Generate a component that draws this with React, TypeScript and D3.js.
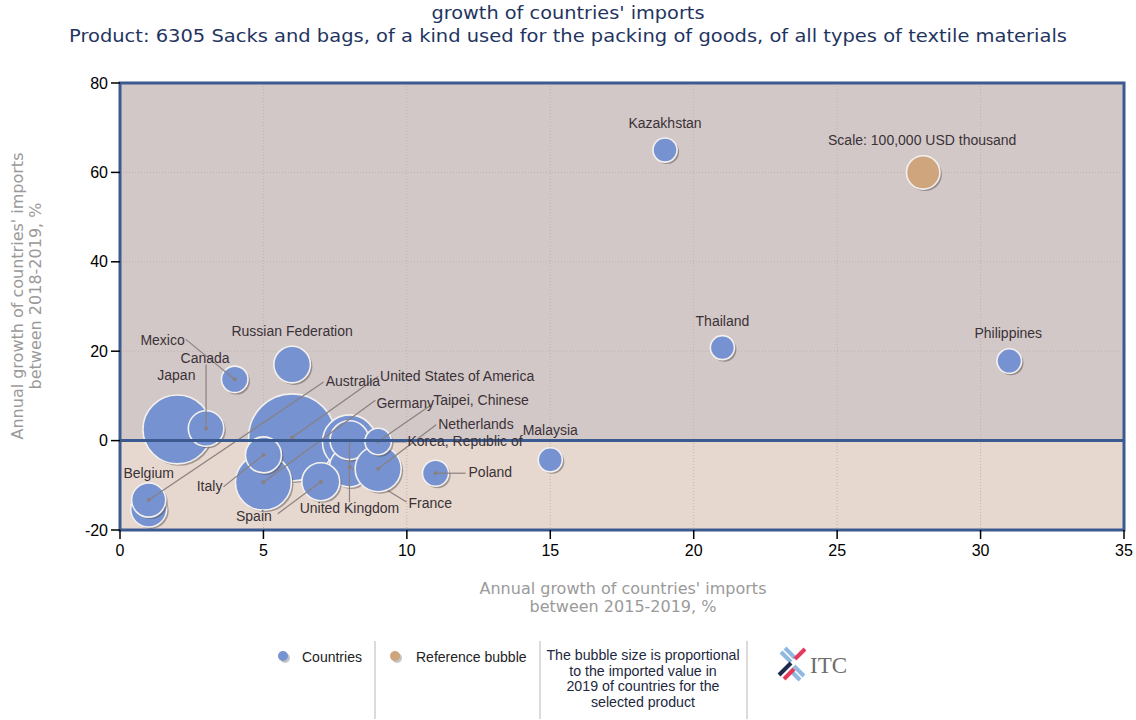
import React from "react";
import * as d3 from "d3";

// ---------- data ----------
const countries = [
  "United States of America", "Japan", "Korea, Republic of", "France", "United Kingdom",
  "Germany", "Netherlands", "Spain", "Italy", "Russian Federation", "Canada", "Mexico",
  "Taipei, Chinese", "Belgium", "Australia", "Poland", "Malaysia", "Thailand",
  "Philippines", "Kazakhstan",
];
// Annual growth 2015-2019, %
const growth1519 = [6, 2, 8, 8, 8, 5, 9, 7, 5, 6, 3, 4, 9, 1, 1, 11, 15, 21, 31, 19];
// Annual growth 2018-2019, %
const growth1819 = [0.7, 2.5, -0.3, -5.9, 0.1, -9.3, -6.3, -9.2, -3.2, 17, 2.7, 13.7, -0.2, -15.3, -13.3, -7.3, -4.3, 20.8, 17.8, 65];
// Imported value 2019, USD thousand
const imports2019 = [680000, 425000, 262000, 143000, 136000, 281000, 190000, 129000, 116000, 120000, 113000, 63000, 63000, 116000, 104000, 61000, 52000, 52000, 54000, 52000];

const refBubble = { x: 28, y: 60, value: 100000, label: "Scale: 100,000 USD thousand" };

const xTicks = [0, 5, 10, 15, 20, 25, 30, 35];
const yTicks = [-20, 0, 20, 40, 60, 80];

const titleLines = ["growth of countries' imports", "Product: 6305 Sacks and bags, of a kind used for the packing of goods, of all types of textile materials"];
const xTitle = ["Annual growth of countries' imports", "between 2015-2019, %"];
const yTitle = ["Annual growth of countries' imports", "between 2018-2019, %"];
const legendNote = ["The bubble size is proportional", "to the imported value in", "2019 of countries for the", "selected product"];

// ---------- label layout (pixel offsets from bubble centre) ----------
type LabelLayout = { dx: number; dy: number; anchor: string; lead?: [number, number] };
const labelLayout: Record<string, LabelLayout> = {
  "United States of America": { dx: 88, dy: -56, anchor: "start", lead: [86, -61] },
  "Japan": { dx: -1, dy: -49, anchor: "middle" },
  "Korea, Republic of": { dx: 58, dy: 4, anchor: "start", lead: [57, 0] },
  "France": { dx: 59, dy: 41, anchor: "start", lead: [57, 35] },
  "United Kingdom": { dx: 0, dy: 73, anchor: "middle", lead: [0, 62] },
  "Germany": { dx: 113, dy: -74, anchor: "start", lead: [112, -82] },
  "Netherlands": { dx: 60, dy: -40, anchor: "start", lead: [58, -44] },
  "Spain": { dx: -49, dy: 39, anchor: "end", lead: [-43, 32] },
  "Italy": { dx: -41, dy: 36, anchor: "end", lead: [-40, 32] },
  "Russian Federation": { dx: 0, dy: -29, anchor: "middle" },
  "Canada": { dx: -1, dy: -66, anchor: "middle", lead: [0, -64] },
  "Mexico": { dx: -50, dy: -34, anchor: "end", lead: [-49, -40] },
  "Taipei, Chinese": { dx: 55, dy: -36, anchor: "start", lead: [55, -38] },
  "Belgium": { dx: 0, dy: -31, anchor: "middle" },
  "Australia": { dx: 177, dy: -114, anchor: "start", lead: [175, -118] },
  "Poland": { dx: 33, dy: 4, anchor: "start", lead: [30, 0] },
  "Malaysia": { dx: 0, dy: -25, anchor: "middle" },
  "Thailand": { dx: 0, dy: -22, anchor: "middle" },
  "Philippines": { dx: -1, dy: -23, anchor: "middle" },
  "Kazakhstan": { dx: 0, dy: -22, anchor: "middle" },
};

// ---------- styles ----------
const W = 1136, H = 720;
const plot = { left: 120, right: 1124, top: 83, bottom: 530 };
const BLUE = "#7692d0";
const ORANGE = "#cfa57e";
const FRAME = "#3b5a8f";
const LABEL_FONT = "'Liberation Sans', Arial, sans-serif";
const TITLE_FONT = "'DejaVu Sans', Verdana, sans-serif";
const titleWidths = [273, 998];

export default function App() {
  const x = d3.scaleLinear().domain([0, 35]).range([plot.left, plot.right]);
  const y = d3.scaleLinear().domain([-20, 80]).range([plot.bottom, plot.top]);
  const r = d3.scaleSqrt().domain([0, 100000]).range([0, 16.7]);

  const pts = countries.map((name, i) => ({
    name,
    cx: x(growth1519[i]),
    cy: y(growth1819[i]),
    rr: r(imports2019[i]),
    lay: labelLayout[name],
  }));

  const bubble = (cx: number, cy: number, rr: number, fill: string, key: string) => (
    <g key={key}>
      <circle cx={cx + 2} cy={cy + 2} r={rr} fill="rgba(80,70,70,0.45)" />
      <circle cx={cx} cy={cy} r={rr} fill={fill} stroke="#f3f1ef" strokeWidth={1.6} />
    </g>
  );

  const titleColor = "#1f355f";

  return (
    <svg width={W} height={H} style={{ position: "absolute", left: 0, top: 0, background: "#fff" }}>
      {/* title */}
      {titleLines.map((t, i) => (
        <text key={t} x={568} y={19 + i * 22.5} textAnchor="middle" fontFamily={TITLE_FONT} fontSize={17}
          textLength={titleWidths[i]} lengthAdjust="spacingAndGlyphs" fill={titleColor}>{t}</text>
      ))}

      {/* background regions */}
      <rect x={plot.left} y={plot.top} width={plot.right - plot.left} height={y(0) - plot.top} fill="#d3c8c8" />
      <rect x={plot.left} y={y(0)} width={plot.right - plot.left} height={plot.bottom - y(0)} fill="#e6d8cf" />

      {/* grid */}
      {xTicks.filter((t) => t > 0 && t < 35).map((t) => (
        <line key={"gx" + t} x1={x(t)} x2={x(t)} y1={plot.top} y2={plot.bottom} stroke="#c2b0b0" strokeDasharray="1,2" />
      ))}
      {yTicks.filter((t) => t > 0 && t < 80).map((t) => (
        <line key={"gy" + t} y1={y(t)} y2={y(t)} x1={plot.left} x2={plot.right} stroke="#c2b0b0" strokeDasharray="1,2" />
      ))}

      {/* bubbles with leader lines */}
      {pts.map((p) => (
        <g key={p.name}>
          {bubble(p.cx, p.cy, p.rr, BLUE, "b" + p.name)}
          {p.lay.lead && (
            <g>
              <line x1={p.cx + p.lay.lead[0]} y1={p.cy + p.lay.lead[1]} x2={p.cx} y2={p.cy} stroke="#8a8080" strokeWidth={1.2} />
              <circle cx={p.cx} cy={p.cy} r={2} fill="#8a8080" />
            </g>
          )}
        </g>
      ))}
      {bubble(x(refBubble.x), y(refBubble.y), r(refBubble.value), ORANGE, "ref")}

      {/* zero line */}
      <line x1={plot.left} x2={plot.right} y1={y(0)} y2={y(0)} stroke={FRAME} strokeWidth={3} />

      {/* labels */}
      {pts.map((p) => (
        <text key={"t" + p.name} x={p.cx + p.lay.dx} y={p.cy + p.lay.dy} textAnchor={p.lay.anchor}
          fontFamily={LABEL_FONT} fontSize={14} fill="#3a3236">{p.name}</text>
      ))}
      <text x={x(refBubble.x) - 1} y={y(refBubble.y) - 27} textAnchor="middle" fontFamily={LABEL_FONT} fontSize={14} fill="#3a3236">{refBubble.label}</text>

      {/* frame */}
      <rect x={plot.left} y={plot.top} width={plot.right - plot.left} height={plot.bottom - plot.top} fill="none" stroke={FRAME} strokeWidth={3} />

      {/* axes ticks */}
      {yTicks.map((t) => (
        <g key={"yt" + t}>
          <line x1={plot.left - 9} x2={plot.left} y1={y(t)} y2={y(t)} stroke="#000" strokeWidth={1.5} />
          <text x={plot.left - 12} y={y(t) + 5.5} textAnchor="end" fontFamily={LABEL_FONT} fontSize={16} fill="#000">{t}</text>
        </g>
      ))}
      {xTicks.map((t) => (
        <g key={"xt" + t}>
          <line x1={x(t)} x2={x(t)} y1={plot.bottom} y2={plot.bottom + 9} stroke="#000" strokeWidth={1.5} />
          <text x={x(t)} y={plot.bottom + 26} textAnchor="middle" fontFamily={LABEL_FONT} fontSize={16} fill="#000">{t}</text>
        </g>
      ))}

      {/* axis titles */}
      {xTitle.map((t, i) => (
        <text key={t} x={623} y={594 + i * 18} textAnchor="middle" fontFamily={TITLE_FONT} fontSize={16} fill="#9a9a9a">{t}</text>
      ))}
      {yTitle.map((t, i) => (
        <text key={t} transform={`translate(${23 + i * 18},296) rotate(-90)`} textAnchor="middle" fontFamily={TITLE_FONT} fontSize={16} fill="#9a9a9a">{t}</text>
      ))}

      {/* legend */}
      <g>
        <circle cx={285} cy={658} r={5} fill="#8c8c8c" opacity={0.5} />
        <circle cx={283} cy={656} r={5} fill={BLUE} />
        <text x={302} y={662} fontFamily={LABEL_FONT} fontSize={14} fill="#222">Countries</text>
        <circle cx={397} cy={658} r={5} fill="#8c8c8c" opacity={0.5} />
        <circle cx={395} cy={656} r={5} fill={ORANGE} />
        <text x={416} y={662} fontFamily={LABEL_FONT} fontSize={14} fill="#222">Reference bubble</text>
        {[375, 540, 747].map((sx) => (
          <line key={sx} x1={sx} x2={sx} y1={641} y2={719} stroke="#b8b8b8" strokeWidth={1} />
        ))}
        {legendNote.map((t, i) => (
          <text key={t} x={643} y={660 + i * 15.5} textAnchor="middle" fontFamily={LABEL_FONT} fontSize={14.2} fill="#1d2840">{t}</text>
        ))}
        {/* ITC logo */}
        <g strokeLinecap="butt">
          <line x1={781} y1={652} x2={791} y2={662} stroke="#8fb9e0" strokeWidth={4} />
          <line x1={785} y1={648} x2={795} y2={658} stroke="#8fb9e0" strokeWidth={4} />
          <line x1={794} y1={666} x2={804} y2={676} stroke="#8fb9e0" strokeWidth={4} />
          <line x1={790} y1={670} x2={800} y2={680} stroke="#8fb9e0" strokeWidth={4} />
          <line x1={795} y1={659} x2={805} y2={649} stroke="#e23b5e" strokeWidth={4} />
          <line x1={779} y1={675} x2={791} y2={663} stroke="#1e2b4d" strokeWidth={4} />
          <line x1={784} y1={679} x2={794} y2={669} stroke="#e23b5e" strokeWidth={4} />
        </g>
        <text x={810} y={673} fontFamily="'Liberation Serif', 'DejaVu Serif', serif" fontSize={23} fill="#6d6d6d">ITC</text>
      </g>
    </svg>
  );
}
